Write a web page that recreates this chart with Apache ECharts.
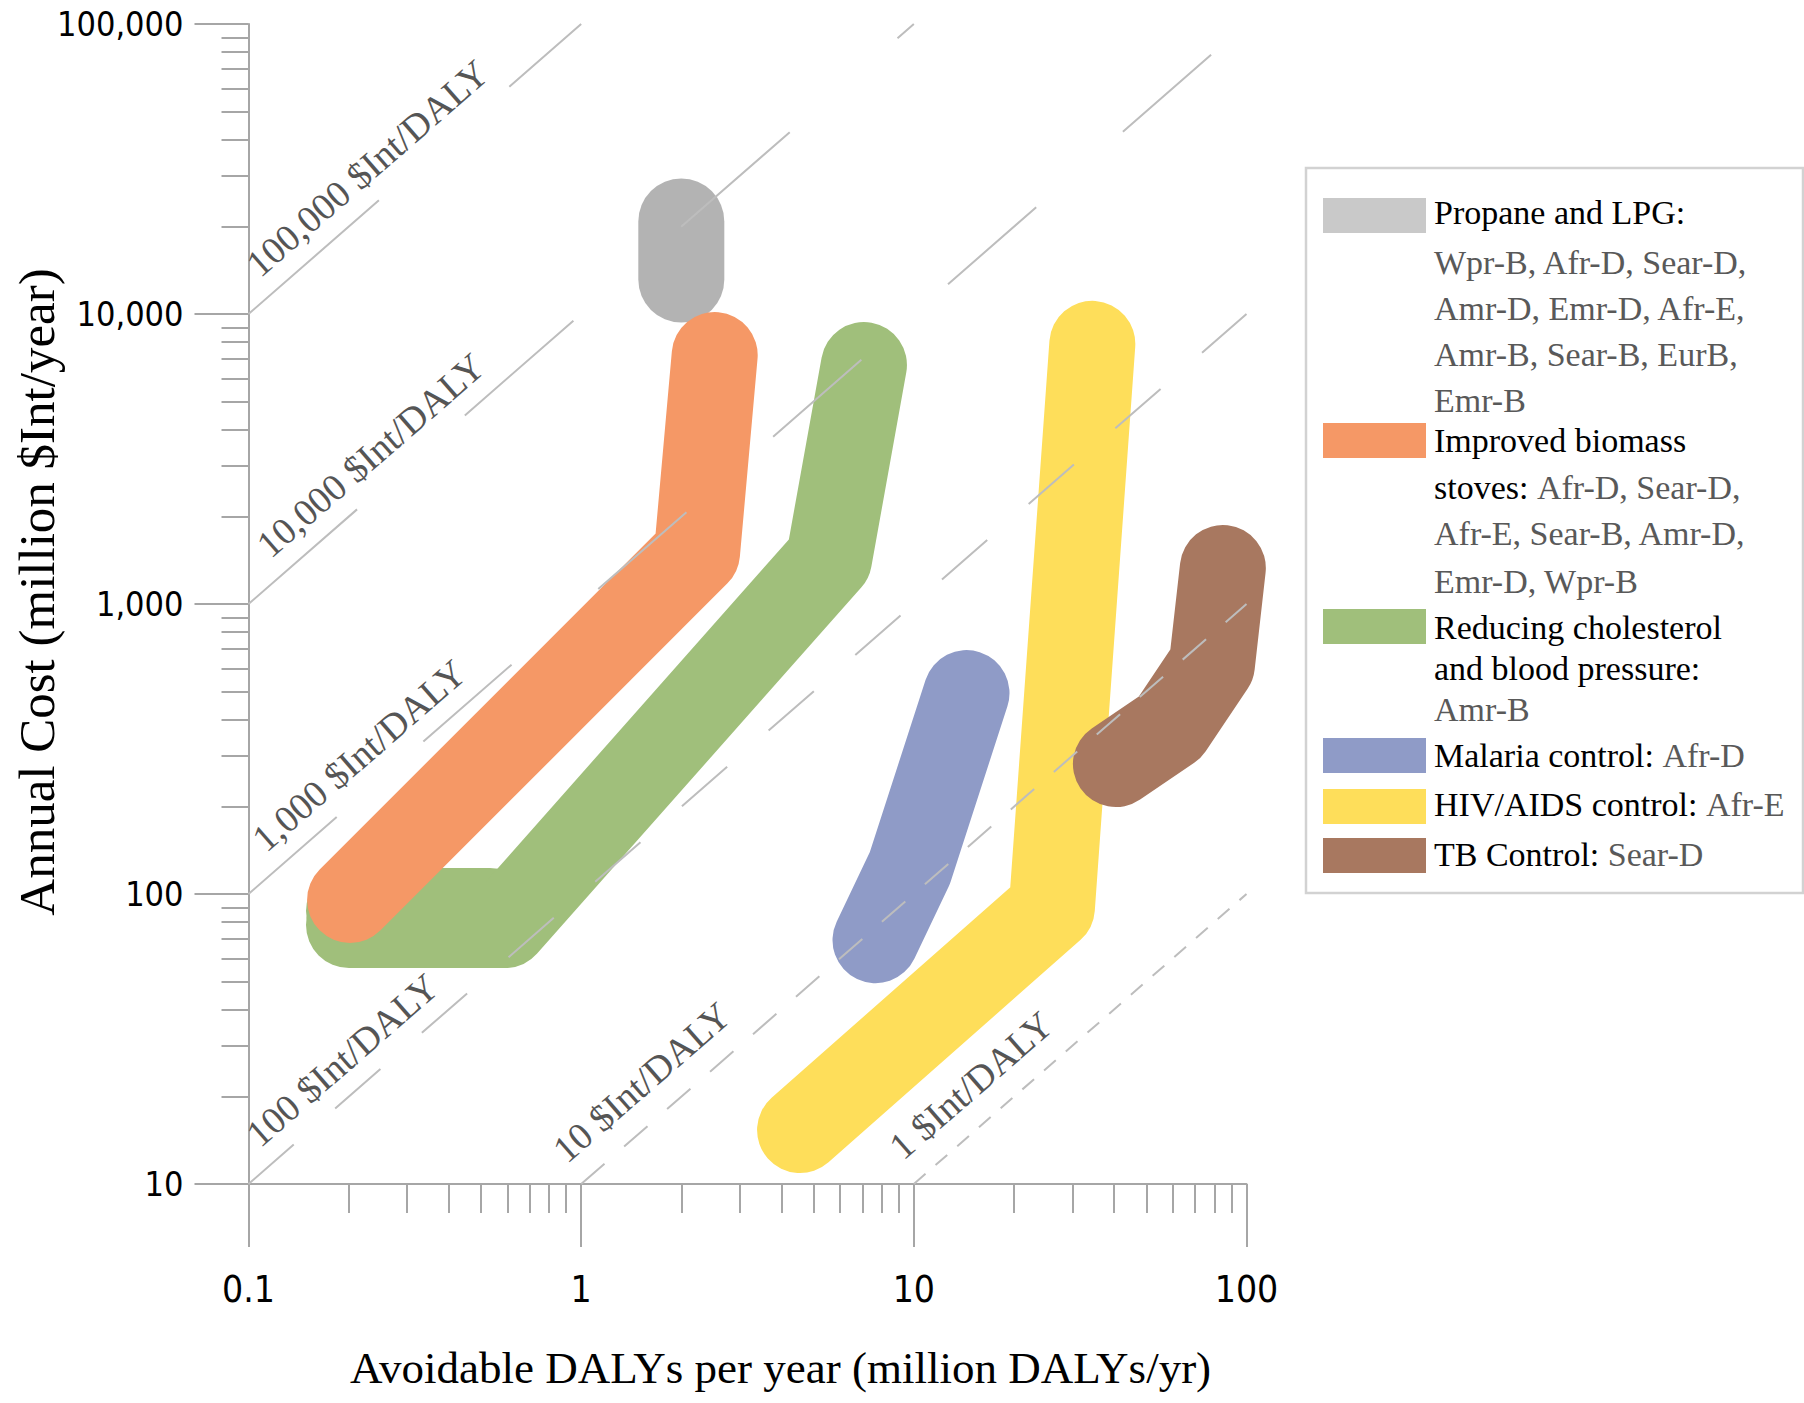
<!DOCTYPE html>
<html><head><meta charset="utf-8">
<script src="https://cdn.jsdelivr.net/npm/echarts@6/dist/echarts.min.js"></script>
<style>html,body{margin:0;padding:0;background:#fff}#c{width:1804px;height:1403px}</style>
</head><body><div id="c"></div>
<script>
// ---- data ----
const xTickValues = [0.1, 1, 10, 100];
const xTickLabels = ['0.1', '1', '10', '100'];
const xMinorTicks = [0.2,0.3,0.4,0.5,0.6,0.7,0.8,0.9, 2,3,4,5,6,7,8,9, 20,30,40,50,60,70,80,90];
const yTickValues = [10, 100, 1000, 10000, 100000];
const yTickLabels = ['10', '100', '1,000', '10,000', '100,000'];
const yMinorTicks = [20,30,40,50,60,70,80,90, 200,300,400,500,600,700,800,900,
  2000,3000,4000,5000,6000,7000,8000,9000, 20000,30000,40000,50000,60000,70000,80000,90000];
const costPerDALY = [1, 10, 100, 1000, 10000, 100000];
const costLabels = ['1 $Int/DALY', '10 $Int/DALY', '100 $Int/DALY', '1,000 $Int/DALY', '10,000 $Int/DALY', '100,000 $Int/DALY'];

const names = ['Propane and LPG', 'Improved biomass stoves', 'Reducing cholesterol and blood pressure',
  'Malaria control', 'HIV/AIDS control', 'TB Control'];
const propane = [[2.0, 13150], [2.0, 20850]];
const biomass = [[0.202, 95.4], [2.23, 1500], [2.52, 7220]];
const cholesterol = [[0.2005, 78.2], [0.59, 78.2], [5.56, 1429], [7.08, 6670]];
const cholesterolUpper = [[0.2005, 87.3], [0.532, 87.3]];
const malaria = [[7.67, 69.3], [9.73, 123], [14.4, 493]];
const hiv = [[4.55, 15.35], [26.0, 89.6], [34.4, 7890]];
const tb = [[40.5, 280.6], [58.9, 376], [78.7, 617], [84.9, 1331]];

// legend text lines: [black part, grey part]
const legendLines = [
  [['Propane and LPG:', ''], ['', 'Wpr-B, Afr-D, Sear-D,'], ['', 'Amr-D, Emr-D, Afr-E,'], ['', 'Amr-B, Sear-B, EurB,'], ['', 'Emr-B']],
  [['Improved biomass', ''], ['stoves:', 'Afr-D, Sear-D,'], ['', 'Afr-E, Sear-B, Amr-D,'], ['', 'Emr-D, Wpr-B']],
  [['Reducing cholesterol', ''], ['and blood pressure:', ''], ['', 'Amr-B']],
  [['Malaria control:', 'Afr-D']],
  [['HIV/AIDS control:', 'Afr-E']],
  [['TB Control:', 'Sear-D']]
];

// ---- styles ----
const blobColors = ['#b3b3b3', '#f59866', '#a0bf7b', '#8f9bc7', '#fede5a', '#a87860'];
const swatchColors = ['#c9c9c9', '#f59866', '#a0bf7b', '#8f9bc7', '#fede5a', '#a87860'];
const isoDash = [[15.5, 13.3], [31, 26], [60, 55], [117, 115], [144, 143], [173, 173]];
const isoLabelDist = [[7, 18], [2, 18], [32, 13], [40, 13], [46, 13], [32, 13]];
const legendLineY = [[212.8, 262.3, 308.3, 354.4, 400.4], [440.6, 487.8, 533.8, 581], [627, 668.4, 709.9], [755.9], [804.2], [854.8]];
const swatchY = [198, 423, 609, 738, 789, 838];

const numFont = "'Liberation Sans Narrow', 'Arial Narrow', 'DejaVu Sans Condensed', sans-serif";
const serif = "'Liberation Serif', 'Times New Roman', serif";
const axisGray = '#a6a6a6';

function nearestLabel(v, vals, labels) {
  let best = 0, bd = Infinity;
  vals.forEach((t, i) => { const d = Math.abs(Math.log10(v) - Math.log10(t)); if (d < bd) { bd = d; best = i; } });
  return labels[best];
}

const chart = echarts.init(document.getElementById('c'), null, {renderer: 'svg', width: 1804, height: 1403});

const series = [];
function blob(name, data, color) {
  return {type: 'line', name, data, showSymbol: false, symbol: 'none', silent: true, z: 2,
    lineStyle: {width: 86, color, cap: 'round', join: 'round', opacity: 1}, emphasis: {disabled: true}};
}
series.push(blob(names[0], propane, blobColors[0]));
series.push(blob(names[2], cholesterolUpper, blobColors[2]));
series.push(blob(names[2], cholesterol, blobColors[2]));
series.push(blob(names[1], biomass, blobColors[1]));
series.push(blob(names[3], malaria, blobColors[3]));
series.push(blob(names[4], hiv, blobColors[4]));
series.push(blob(names[5], tb, blobColors[5]));

const xMin = xTickValues[0], xMax = xTickValues[xTickValues.length - 1];
const yMin = yTickValues[0], yMax = yTickValues[yTickValues.length - 1];
const isoItems = costPerDALY.map((c, i) => {
  const start = [Math.max(xMin, yMin / c), Math.max(yMin, xMin * c)];
  const end = [Math.min(xMax, yMax / c), Math.min(yMax, xMax * c)];
  return [
    {coord: start, lineStyle: {type: isoDash[i], color: '#bdbdbd', width: 2},
     label: {show: true, position: 'insideStartTop', formatter: costLabels[i], distance: isoLabelDist[i],
       color: '#555555', fontSize: 38, fontFamily: serif}},
    {coord: end}
  ];
});
series.push({type: 'line', data: [], silent: true, z: 5,
  markLine: {silent: true, symbol: ['none', 'none'], animation: false, data: isoItems,
    emphasis: {disabled: true}}});

// legend graphics
const graphics = [{type: 'rect', shape: {x: 1306, y: 168, width: 497, height: 725},
  style: {fill: '#fff', stroke: '#d2d2d2', lineWidth: 2.5}, z: 1}];
legendLines.forEach((lines, i) => {
  graphics.push({type: 'rect', shape: {x: 1323, y: swatchY[i], width: 103, height: 35}, style: {fill: swatchColors[i]}, z: 2});
  lines.forEach((ln, j) => {
    let t = '';
    if (ln[0]) t += '{k|' + ln[0] + '}';
    if (ln[0] && ln[1]) t += '{k| }';
    if (ln[1]) t += '{g|' + ln[1] + '}';
    graphics.push({type: 'text', x: 1434, y: legendLineY[i][j], z: 3,
      style: {text: t, verticalAlign: 'middle', align: 'left',
        rich: {k: {fill: '#000', fontSize: 34, fontFamily: serif}, g: {fill: '#595959', fontSize: 34, fontFamily: serif}}}});
  });
});

const option = {
  animation: false,
  backgroundColor: '#fff',
  grid: {left: 248.5, top: 24, width: 998, height: 1160, containLabel: false, outerBoundsMode: 'none'},
  xAxis: [{
    type: 'log', logBase: 10, min: xMin, max: xMax, position: 'bottom',
    axisLine: {show: true, lineStyle: {color: axisGray, width: 2}},
    axisTick: {show: true, length: 63, customValues: xTickValues, lineStyle: {color: axisGray, width: 2}},
    axisLabel: {show: true, customValues: xTickValues, margin: 87, color: '#000', fontSize: 37, fontFamily: numFont,
      formatter: v => nearestLabel(v, xTickValues, xTickLabels)},
    splitLine: {show: false}, minorTick: {show: false},
    name: 'Avoidable DALYs per year (million DALYs/yr)', nameLocation: 'middle', nameGap: 161,
    nameTextStyle: {color: '#000', fontSize: 45, fontFamily: serif, padding: [0, 0, 0, 66]}
  }, {
    type: 'log', logBase: 10, min: xMin, max: xMax, position: 'bottom',
    axisLine: {show: false},
    axisTick: {show: true, length: 29, customValues: xMinorTicks, lineStyle: {color: axisGray, width: 2}},
    axisLabel: {show: false}, splitLine: {show: false}
  }],
  yAxis: [{
    type: 'log', logBase: 10, min: yMin, max: yMax, position: 'left',
    axisLine: {show: true, lineStyle: {color: axisGray, width: 2}},
    axisTick: {show: true, length: 54, customValues: yTickValues, lineStyle: {color: axisGray, width: 2}},
    axisLabel: {show: true, customValues: yTickValues, margin: 65, color: '#000', fontSize: 34, fontFamily: numFont,
      formatter: v => nearestLabel(v, yTickValues, yTickLabels)},
    splitLine: {show: false}, minorTick: {show: false},
    name: 'Annual Cost (million $Int/year)', nameLocation: 'middle', nameGap: 186, nameRotate: 90,
    nameMoveOverlap: false,
    nameTextStyle: {color: '#000', fontSize: 51, fontFamily: serif, padding: [0, 0, 0, 24]}
  }, {
    type: 'log', logBase: 10, min: yMin, max: yMax, position: 'left',
    axisLine: {show: false},
    axisTick: {show: true, length: 27, customValues: yMinorTicks, lineStyle: {color: axisGray, width: 2}},
    axisLabel: {show: false}, splitLine: {show: false}
  }],
  series: series,
  graphic: graphics
};
chart.setOption(option);
</script></body></html>
